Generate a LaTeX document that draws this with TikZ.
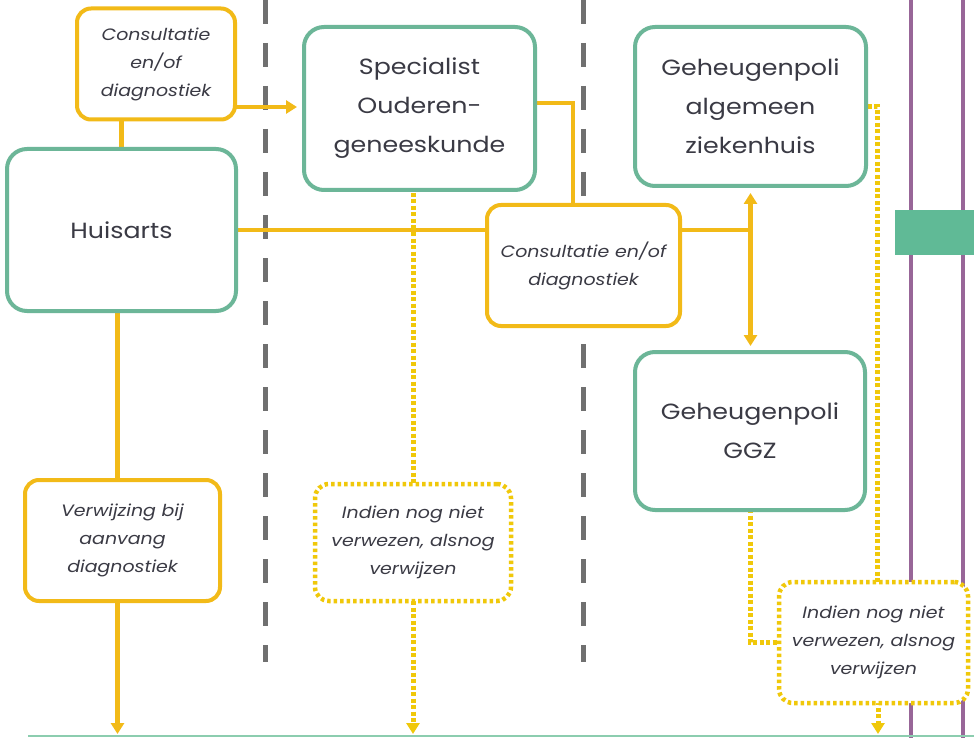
\documentclass[tikz,border=0pt]{standalone}
\usepackage{fontspec}
\setmainfont{Poppins}[FakeStretch=1.15]
\usetikzlibrary{arrows.meta}
\pgfdeclarelayer{bg}
\pgfsetlayers{bg,main}
\definecolor{gold}{RGB}{242,186,24}
\definecolor{tealg}{RGB}{108,182,152}
\definecolor{dotyel}{RGB}{240,200,10}
\definecolor{purp}{RGB}{152,102,152}
\definecolor{barg}{RGB}{96,186,150}
\definecolor{dgrey}{RGB}{112,112,112}
\definecolor{txt}{RGB}{58,58,68}
\definecolor{baseg}{RGB}{140,205,175}
\tikzset{
  greenbox/.style={draw=tealg, line width=4pt, rounded corners=20pt, fill=white, align=center,
    font=\fontsize{22}{39}\selectfont, text=txt, inner sep=0pt},
  goldbox/.style={draw=gold, line width=4pt, rounded corners=14pt, fill=white, align=center,
    font=\fontsize{16.5}{28}\selectfont\itshape, text=txt, inner sep=0pt},
  dotbox/.style={goldbox, draw=dotyel, line width=4.5pt, dash pattern=on 3.5pt off 3pt},
  conn/.style={draw=gold, line width=4.5pt},
  dotconn/.style={draw=dotyel, line width=5pt, dash pattern=on 4pt off 2.5pt},
  tip/.style={-{Triangle[width=13pt,length=11pt]}},
  dtip/.style={{Triangle[width=13pt,length=11pt]}-{Triangle[width=13pt,length=11pt]}},
  sep/.style={draw=dgrey, line width=5pt, dash pattern=on 24pt off 19pt},
  vline/.style={draw=purp, line width=4pt}
}
\begin{document}
\begin{tikzpicture}[x=1pt,y=-1pt]
\useasboundingbox (0,0) rectangle (974,738);

% nodes
\node[goldbox, minimum width=158pt, minimum height=111pt] (cons1) at (156,64) {Consultatie\\en/of\\diagnostiek};
\node[greenbox, minimum width=229pt, minimum height=162pt] (huis) at (121.5,230) {Huisarts};
\node[greenbox, minimum width=231pt, minimum height=163pt] (spec) at (419.5,108.5) {Specialist\\Ouderen-\\geneeskunde};
\node[goldbox, minimum width=193pt, minimum height=121pt] (cen) at (583.5,265.5) {Consultatie en/of\\diagnostiek};
\node[greenbox, minimum width=231pt, minimum height=159pt] (alg) at (750.5,106.5) {Geheugenpoli\\algemeen\\ziekenhuis};
\node[greenbox, minimum width=230pt, minimum height=158pt] (ggz) at (750,431) {Geheugenpoli\\GGZ};
\node[goldbox, minimum width=195pt, minimum height=121pt] (verw) at (122.5,540.5) {Verwijzing bij\\aanvang\\diagnostiek};
\node[dotbox, minimum width=196pt, minimum height=117pt] (mid) at (413,542.5) {Indien nog niet\\verwezen, alsnog\\verwijzen};
\node[dotbox, minimum width=189pt, minimum height=121pt] (rbox) at (873.5,642.5) {Indien nog niet\\verwezen, alsnog\\verwijzen};
\coordinate (base) at (0,736);

\begin{pgfonlayer}{bg}
  \fill[white] (0,0) rectangle (974,738);
  % separators and vertical lines
  \draw[sep] (265,0) -- (265,662);
  \draw[sep] (583,0) -- (583,662);
  \draw[vline] (911,0) -- (911,738);
  \draw[vline] (963,0) -- (963,738);
  \fill[barg] (895,210) rectangle (974,255);
  \draw[baseg, line width=2pt] (28,736) -- (974,736);
  % solid connectors
  \draw[conn] (cons1.center -| huis.north) -- (huis.north);
  \draw[conn, tip, shorten >=5pt] ([yshift=-43pt]cons1.center) -- ([yshift=-43pt]cons1.center -| spec.west);
  \draw[conn] ([yshift=5.5pt]spec.center) -| ([xshift=-10.5pt]cen.center);
  \draw[conn] (huis.center) -- (huis.center -| alg.center);
  \draw[conn, dtip, shorten <=5pt, shorten >=4pt] (alg.south) -- (alg.south |- ggz.north);
  \draw[conn] ([xshift=-4pt]huis.center) -- ([xshift=-4pt]huis.center |- verw.center);
  \draw[conn, tip, shorten >=2pt] ([xshift=-5pt]verw.center) -- ([xshift=-5pt]verw.center |- base);
  % dotted connectors
  \draw[dotconn] (spec.center -| mid.center) -- (mid.center);
  \draw[dotconn, tip, shorten >=2pt] (mid.center) -- (mid.center |- base);
  \draw[dotconn] (ggz.center) |- (rbox.center);
  \draw[dotconn] (alg.center) -| ([xshift=3.5pt]rbox.center);
  \draw[dotconn, tip, shorten >=2pt] ([xshift=4.5pt]rbox.center) -- ([xshift=4.5pt]rbox.center |- base);
\end{pgfonlayer}
\end{tikzpicture}
\end{document}
